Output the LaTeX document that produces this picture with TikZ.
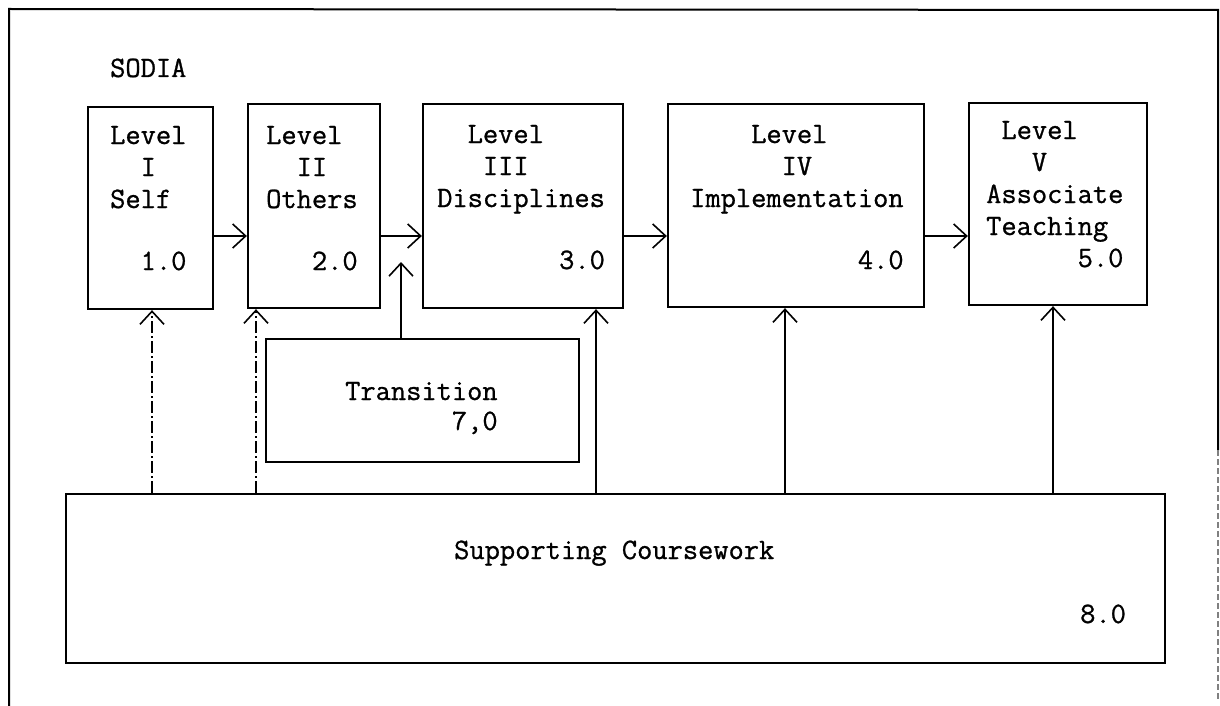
\documentclass[tikz,border=0pt]{standalone}
\usepackage{fontspec}
\usetikzlibrary{arrows.meta}
\newfontfamily\typew{Latin Modern Mono}[FakeBold=0.9]
\tikzset{
  tw/.style={font=\typew\fontsize{29.6}{32}\selectfont, inner sep=0pt, anchor=base west, align=left},
  stagebox/.style={draw, line width=2.3pt, minimum width=#1, inner sep=0pt},
  frameline/.style={line width=2pt},
  arr/.style={line width=1.8pt, -{Straight Barb[length=13pt,width=24pt,line width=1.6pt]}},
  dashy/.style={dash pattern=on 12pt off 3pt on 2pt off 3pt}
}
\begin{document}
\begin{tikzpicture}[x=1pt,y=-1pt]
\useasboundingbox (0,0) rectangle (1220,706);
\fill[white] (0,0) rectangle (1220,706);

% outer frame
\coordinate (fTL) at (9,9);
\coordinate (fTR) at (1218,10);
\coordinate (fBL) at (9,706);
\coordinate (fMR) at (1218,450);
\coordinate (fBR) at (1218,700);
\draw[frameline] (fBL) -- (fTL) -- (fTR) -- (fMR);
\draw[line width=1.2pt, gray, dash pattern=on 6pt off 3pt] (fMR) -- (fBR);

% title
\node[tw] (title) at (110,77) {SODIA};

% level boxes
\node[stagebox=125pt, minimum height=202pt] (b1) at (150.5,208) {};
\node[stagebox=132pt, minimum height=204pt] (b2) at (314,206) {};
\node[stagebox=200pt, minimum height=204pt] (b3) at (523,206) {};
\node[stagebox=256pt, minimum height=203pt] (b4) at (796,205.5) {};
\node[stagebox=178pt, minimum height=202pt] (b5) at (1058,204) {};

% transition and coursework boxes
\node[stagebox=313pt, minimum height=123pt] (tr) at (422.5,400.5) {};
\node[stagebox=1099pt, minimum height=169pt] (sc) at (615.5,578.5) {};

% box texts (placed by the baseline of their last line)
\node[tw] (t1) at (110,270) {Level\\\hphantom{00}I\\Self\\[30pt]\hphantom{00}1.0};
\node[tw] (t2) at (266,270) {Level\\\hphantom{00}II\\Others\\[30pt]\hphantom{000}2.0};
\node[tw] (t3) at (437,269) {\hphantom{00}Level\\\hphantom{000}III\\Disciplines\\[30pt]\hphantom{00000000}3.0};
\node[tw] (t4) at (690,269) {\hphantom{0000}Level\\\hphantom{000000}IV\\Implementation\\[30pt]\hphantom{00000000000}4.0};
\node[tw] (t5) at (986,267) {\hphantom{0}Level\\\hphantom{000}V\\Associate\\Teaching\\\hphantom{000000}5.0};
\node[tw] (t7) at (345,430) {Transition\\[-2pt]\hphantom{0000000}7,0};
\node[tw] (t8) at (454,559) {Supporting Coursework};
\node[tw] (t8n) at (1080,623) {8.0};

% flow between levels
\coordinate (row) at (0,236);
\draw[arr] (b1.east |- row) -- (b2.west |- row);
\draw[arr] (b2.east |- row) -- (b3.west |- row);
\draw[arr] (b3.east |- row) -- (b4.west |- row);
\draw[arr] (b4.east |- row) -- (b5.west |- row);

% transition feeds between levels II and III
\coordinate (xt) at (401,0);
\coordinate (tipT) at (401,262);
\draw[arr] (xt |- tr.north) -- (tipT);

% supporting coursework under each level
\coordinate (x1) at (152,0);
\coordinate (x2) at (256,0);
\coordinate (x3) at (596,0);
\coordinate (x4) at (785,0);
\coordinate (x5) at (1053,0);
\draw[arr, dashy] (x1 |- sc.north) -- (x1 |- b1.south);
\draw[arr, dashy] (x2 |- sc.north) -- (x2 |- b2.south);
\draw[arr, line width=1.2pt] (x3 |- sc.north) -- (x3 |- b3.south);
\draw[arr] (x4 |- sc.north) -- (x4 |- b4.south);
\draw[arr] (x5 |- sc.north) -- (x5 |- b5.south);
\end{tikzpicture}
\end{document}
